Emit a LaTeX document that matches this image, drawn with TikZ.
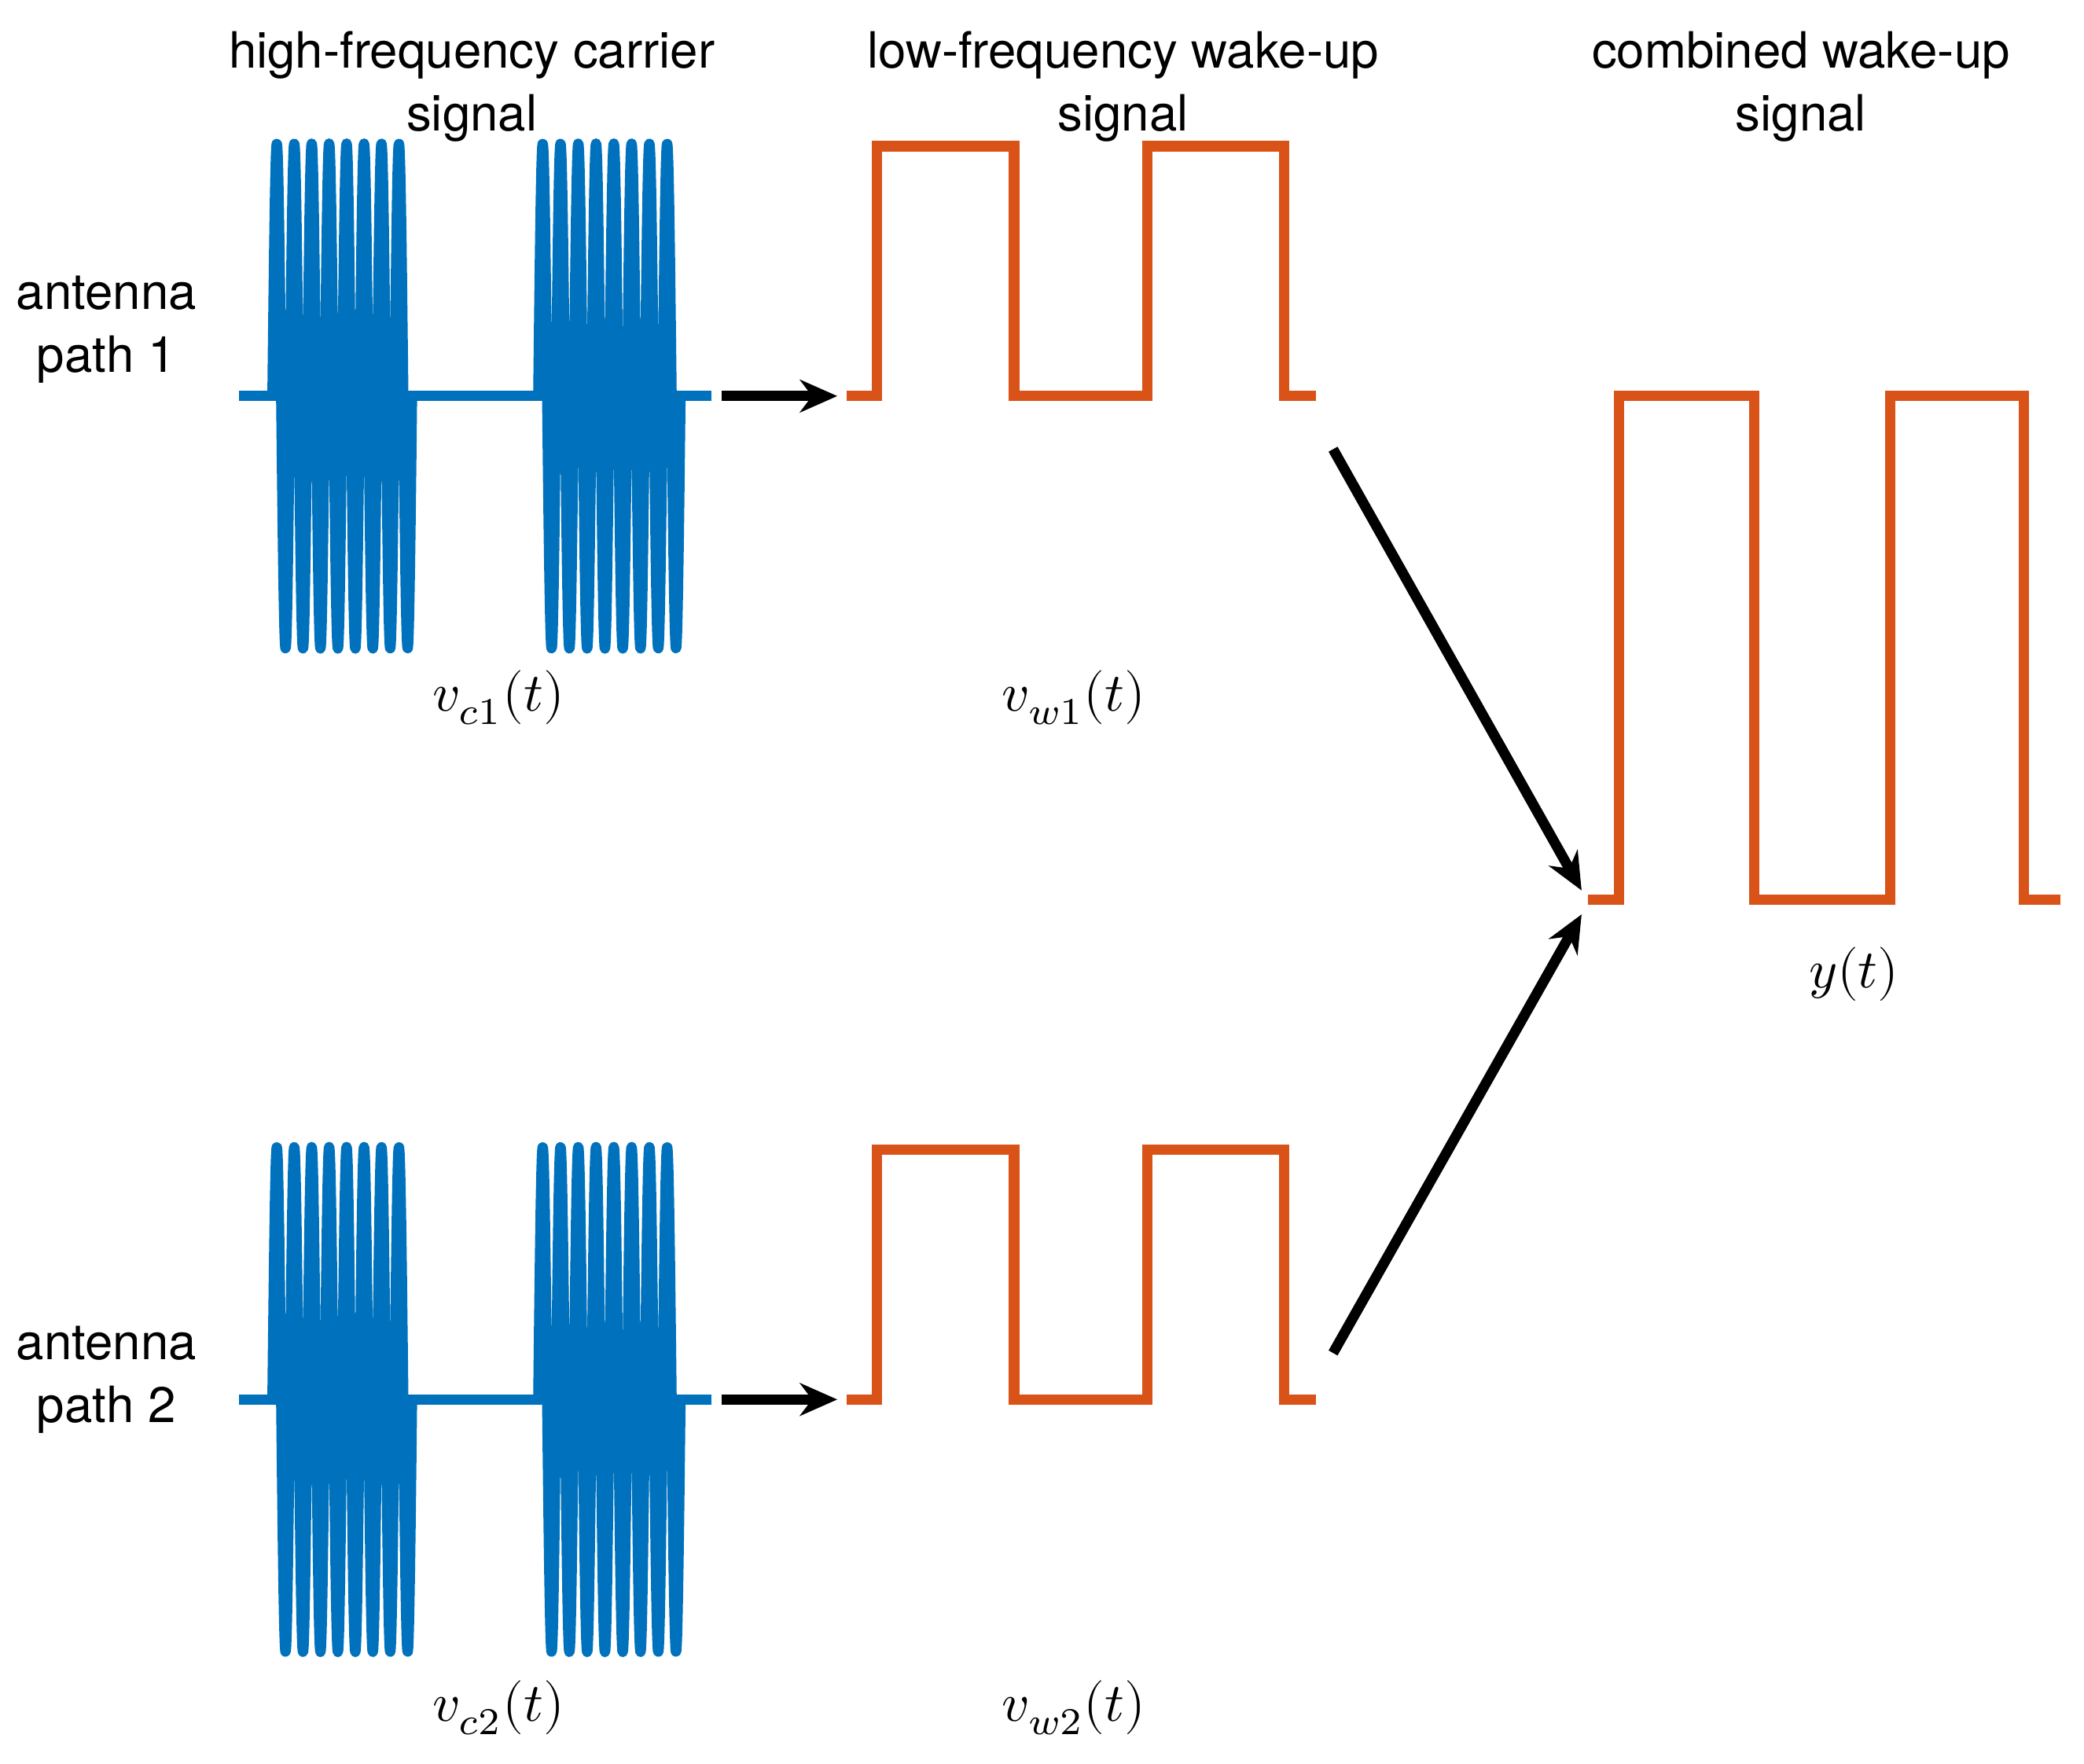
\documentclass[tikz,border=0pt]{standalone}
\usepackage{fontspec}
\setmainfont{TeX Gyre Heros}
\usepackage{unicode-math}
\setmathfont{Latin Modern Math}
\usetikzlibrary{arrows.meta}
\definecolor{cblue}{RGB}{0,114,189}
\definecolor{corange}{RGB}{217,83,25}
\begin{document}
\begin{tikzpicture}[x=0.01cm,y=-0.01cm,
  carrier/.style={cblue,line width=2.2pt,line join=round},
  wake/.style={corange,line width=2.2pt,line join=miter},
  arr/.style={black,line width=2.2pt,-{Stealth[length=8pt,width=7pt]}},
  ttl/.style={font=\fontsize{10.7}{13.5}\selectfont,align=center},
  lbl/.style={font=\fontsize{11.6}{14}\selectfont}]
\useasboundingbox (0,0) rectangle (1568,1327);
\foreach \b/\n in {298/1,1053/2}{
  \draw[carrier] (180,\b) -- (535,\b);
  \draw[carrier] plot[domain=205:310,samples=400] (\x,{\b-190*sin(27.43*(\x-205))});
  \draw[carrier] plot[domain=405:512,samples=400] (\x,{\b-190*sin(26.92*(\x-405))});
  \draw[wake] (637,\b) -- (660,\b) -- (660,\b-188) -- (763,\b-188) -- (763,\b) -- (863,\b) -- (863,\b-188) -- (966,\b-188) -- (966,\b) -- (990,\b);
  \coordinate (a\n) at (543,\b);
  \coordinate (b\n) at (630,\b);
  \draw[arr] (a\n) -- (b\n);
}
\draw[wake] (1195,677) -- (1218,677) -- (1218,298) -- (1320,298) -- (1320,677) -- (1422,677) -- (1422,298) -- (1523,298) -- (1523,677) -- (1550,677);
\coordinate (s1) at (1003,338);
\coordinate (e1) at (1190,670);
\coordinate (s2) at (1003,1018);
\coordinate (e2) at (1190,688);
\draw[arr] (s1) -- (e1);
\draw[arr] (s2) -- (e2);
\node[ttl] (t1) at (355,65) {high-frequency carrier\\signal};
\node[ttl] (t2) at (845,65) {low-frequency wake-up\\signal};
\node[ttl] (t3) at (1355,65) {combined wake-up\\signal};
\node[ttl] (p1) at (80,248) {antenna\\path 1};
\node[ttl] (p2) at (80,1038) {antenna\\path 2};
\node[lbl] (l1) at (375,525) {$v_{c1}(t)$};
\node[lbl] (l2) at (808,525) {$v_{w1}(t)$};
\node[lbl] (l3) at (1395,733) {$y(t)$};
\node[lbl] (l4) at (375,1285) {$v_{c2}(t)$};
\node[lbl] (l5) at (808,1285) {$v_{w2}(t)$};
\end{tikzpicture}
\end{document}
